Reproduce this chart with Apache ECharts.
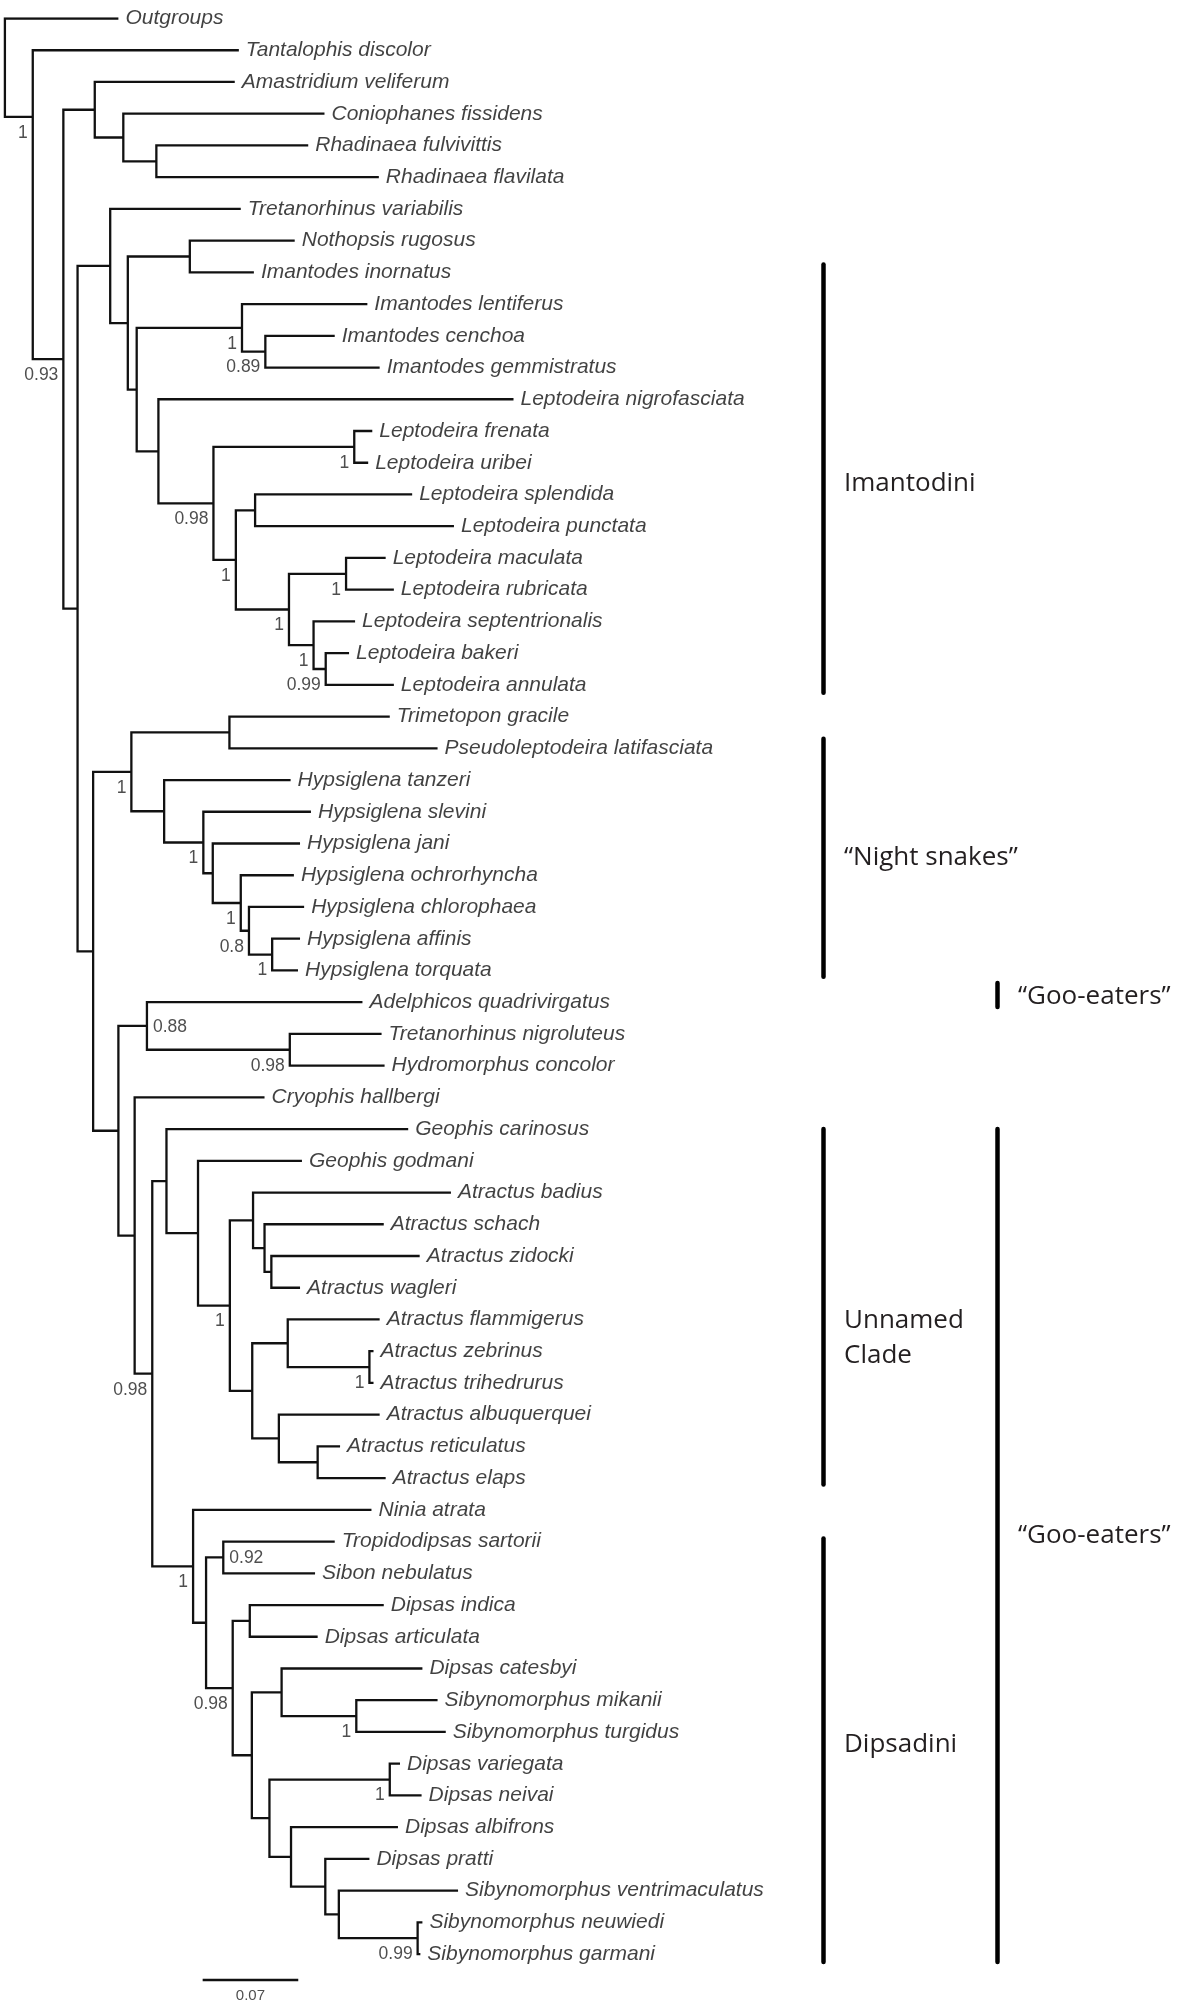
<!DOCTYPE html>
<html>
<head>
<meta charset="utf-8">
<title>Dipsadine phylogeny</title>
<script src="https://cdn.jsdelivr.net/npm/echarts@6/dist/echarts.min.js"></script>
<style>
  html, body { margin: 0; padding: 0; background: #fff; }
  #chart { width: 1200px; height: 2009px; }
</style>
</head>
<body>
<div id="chart"></div>
<script>
// tips, top to bottom
const taxa = [
  'Outgroups', 'Tantalophis discolor', 'Amastridium veliferum', 'Coniophanes fissidens',
  'Rhadinaea fulvivittis', 'Rhadinaea flavilata', 'Tretanorhinus variabilis', 'Nothopsis rugosus',
  'Imantodes inornatus', 'Imantodes lentiferus', 'Imantodes cenchoa', 'Imantodes gemmistratus',
  'Leptodeira nigrofasciata', 'Leptodeira frenata', 'Leptodeira uribei', 'Leptodeira splendida',
  'Leptodeira punctata', 'Leptodeira maculata', 'Leptodeira rubricata', 'Leptodeira septentrionalis',
  'Leptodeira bakeri', 'Leptodeira annulata', 'Trimetopon gracile', 'Pseudoleptodeira latifasciata',
  'Hypsiglena tanzeri', 'Hypsiglena slevini', 'Hypsiglena jani', 'Hypsiglena ochrorhyncha',
  'Hypsiglena chlorophaea', 'Hypsiglena affinis', 'Hypsiglena torquata', 'Adelphicos quadrivirgatus',
  'Tretanorhinus nigroluteus', 'Hydromorphus concolor', 'Cryophis hallbergi', 'Geophis carinosus',
  'Geophis godmani', 'Atractus badius', 'Atractus schach', 'Atractus zidocki',
  'Atractus wagleri', 'Atractus flammigerus', 'Atractus zebrinus', 'Atractus trihedrurus',
  'Atractus albuquerquei', 'Atractus reticulatus', 'Atractus elaps', 'Ninia atrata',
  'Tropidodipsas sartorii', 'Sibon nebulatus', 'Dipsas indica', 'Dipsas articulata',
  'Dipsas catesbyi', 'Sibynomorphus mikanii', 'Sibynomorphus turgidus', 'Dipsas variegata',
  'Dipsas neivai', 'Dipsas albifrons', 'Dipsas pratti', 'Sibynomorphus ventrimaculatus',
  'Sibynomorphus neuwiedi', 'Sibynomorphus garmani'
];

// distance of each tip from the root
const tipDepth = [
  0.0831, 0.1713, 0.1683, 0.2340, 0.2221, 0.2738, 0.1727, 0.2122,
  0.1823, 0.2654, 0.2415, 0.2744, 0.3724, 0.2690, 0.2660, 0.2982,
  0.3288, 0.2788, 0.2848, 0.2564, 0.2520, 0.2848, 0.2818, 0.3168,
  0.2092, 0.2241, 0.2161, 0.2116, 0.2191, 0.2161, 0.2146, 0.2618,
  0.2758, 0.2780, 0.1901, 0.2953, 0.2175, 0.3266, 0.2774, 0.3037,
  0.2161, 0.2744, 0.2699, 0.2699, 0.2744, 0.2454, 0.2788, 0.2684,
  0.2415, 0.2271, 0.2774, 0.2290, 0.3057, 0.3168, 0.3228, 0.2893,
  0.3051, 0.2878, 0.2669, 0.3318, 0.3057, 0.3042
];

// internal nodes n0..n60: depth, children (number = tip, 'nK' = node), posterior support
const nodeDepth = [
  0.0000, 0.0204, 0.0428, 0.0658, 0.0867, 0.1109, 0.0532, 0.0771, 0.0900, 0.1354,
  0.0965, 0.1736, 0.1907, 0.1124, 0.1527, 0.2558, 0.1691, 0.1832, 0.2080, 0.2498,
  0.2260, 0.2349, 0.0646, 0.0926, 0.1644, 0.1166, 0.1453, 0.1522, 0.1727, 0.1787,
  0.1957, 0.0831, 0.1040, 0.2086, 0.0950, 0.1079, 0.1183, 0.1414, 0.1647, 0.1817,
  0.1901, 0.1951, 0.1811, 0.2071, 0.2669, 0.2006, 0.2290, 0.1378, 0.1473, 0.1599,
  0.1668, 0.1793, 0.1808, 0.2026, 0.2573, 0.1937, 0.2818, 0.2095, 0.2346, 0.2445,
  0.3022
];
const nodeKids = [
  [0, 'n1'], [1, 'n2'], ['n3', 'n6'], [2, 'n4'], [3, 'n5'], [4, 5], ['n7', 'n22'], [6, 'n8'],
  ['n9', 'n10'], [7, 8], ['n11', 'n13'], [9, 'n12'], [10, 11], [12, 'n14'], ['n15', 'n16'],
  [13, 14], ['n17', 'n18'], [15, 16], ['n19', 'n20'], [17, 18], [19, 'n21'], [20, 21],
  ['n23', 'n31'], ['n24', 'n25'], [22, 23], [24, 'n26'], [25, 'n27'], [26, 'n28'], [27, 'n29'],
  [28, 'n30'], [29, 30], ['n32', 'n34'], [31, 'n33'], [32, 33], [34, 'n35'], ['n36', 'n47'],
  [35, 'n37'], [36, 'n38'], ['n39', 'n42'], [37, 'n40'], [38, 'n41'], [39, 40], ['n43', 'n45'],
  [41, 'n44'], [42, 43], [44, 'n46'], [45, 46], [47, 'n48'], ['n49', 'n50'], [48, 49],
  ['n51', 'n52'], [50, 51], ['n53', 'n55'], [52, 'n54'], [53, 54], ['n56', 'n57'], [55, 56],
  [57, 'n58'], [58, 'n59'], [59, 'n60'], [60, 61]
];
const nodeSupport = [
  '', '1', '0.93', '', '', '', '', '', '', '',
  '', '1', '0.89', '', '0.98', '1', '1', '', '1', '1',
  '1', '0.99', '', '1', '', '', '1', '', '1', '0.8',
  '1', '', '0.88', '0.98', '', '0.98', '', '', '1', '',
  '', '', '', '', '1', '', '', '1', '', '0.92',
  '0.98', '', '', '', '1', '', '1', '', '', '',
  '0.99'
];
// supports printed to the right of their node
const supportOnRight = [32, 49];
// the figure draws the stem of n1 high up, not at the middle of its children
const nodeRowFixed = { 1: 3.1 };

// clades marked on the right: first/last row covered by the bar, row of the label
const cladeNames = ['Imantodini', '“Night snakes”', '“Goo-eaters”', 'Unnamed\nClade', 'Dipsadini', '“Goo-eaters”'];
const cladeFrom = [7.75, 22.7, 30.4, 35.0, 47.9, 35.0];
const cladeTo = [21.25, 30.2, 31.15, 46.2, 61.25, 61.25];
const cladeLabelRow = [14.65, 26.45, 30.83, 41.6, 54.4, 47.8];
const cladeColumn = [0, 0, 1, 0, 0, 1];

const scaleLength = 0.07;

// ---- layout helpers ----
const nodeY = [];
function pos(k) {
  if (typeof k === 'number') return [tipDepth[k], k];
  const i = +k.slice(1);
  if (nodeY[i] === undefined) {
    const a = pos(nodeKids[i][0]), b = pos(nodeKids[i][nodeKids[i].length - 1]);
    nodeY[i] = nodeRowFixed[i] !== undefined ? nodeRowFixed[i] : (a[1] + b[1]) / 2;
  }
  return [nodeDepth[i], nodeY[i]];
}

const branches = nodeKids.map((kids, i) => {
  const p = pos('n' + i);
  const a = pos(kids[0]), b = pos(kids[kids.length - 1]);
  return { coords: [[a[0], a[1]], [p[0], a[1]], [p[0], b[1]], [b[0], b[1]]] };
});

const supportLeft = [], supportRight = [];
nodeSupport.forEach((s, i) => {
  if (!s) return;
  const p = pos('n' + i);
  (supportOnRight.indexOf(i) >= 0 ? supportRight : supportLeft).push([p[0], p[1], s]);
});

const scaleStart = 0.1448, scaleRow = 61.8;

const chart = echarts.init(document.getElementById('chart'));
const tipFont = { fontFamily: '"Liberation Sans", Arial, sans-serif', fontStyle: 'italic', fontSize: 21, color: '#111' };
const supFont = { fontFamily: '"Liberation Sans", Arial, sans-serif', fontSize: 17.5, color: '#222' };

chart.setOption({
  animation: false,
  grid: { left: 4.9, top: 18.5, width: 1092.6, height: 1967.3 },
  xAxis: { type: 'value', min: 0, max: 0.8, show: false },
  yAxis: { type: 'value', min: 0, max: 62, inverse: true, show: false },
  series: [
    {
      type: 'lines',
      coordinateSystem: 'cartesian2d',
      polyline: true,
      silent: true,
      lineStyle: { color: '#111', width: 2.3, opacity: 1, join: 'miter', cap: 'butt' },
      data: branches
    },
    {
      type: 'lines',
      coordinateSystem: 'cartesian2d',
      silent: true,
      lineStyle: { color: '#111', width: 2.3, opacity: 1 },
      data: [{ coords: [[scaleStart, scaleRow], [scaleStart + scaleLength, scaleRow]] }]
    },
    {
      type: 'scatter',
      symbolSize: 0,
      silent: true,
      data: taxa.map((t, i) => [tipDepth[i], i, t]),
      label: Object.assign({ show: true, position: 'right', distance: 7, formatter: p => p.data[2] }, tipFont)
    },
    {
      type: 'scatter',
      symbolSize: 0,
      silent: true,
      data: supportLeft,
      label: Object.assign({ show: true, position: 'left', distance: 5, offset: [0, 16], formatter: p => p.data[2] }, supFont)
    },
    {
      type: 'scatter',
      symbolSize: 0,
      silent: true,
      data: supportRight,
      label: Object.assign({ show: true, position: 'right', distance: 6, offset: [0, 1], formatter: p => p.data[2] }, supFont)
    },
    {
      type: 'scatter',
      symbolSize: 0,
      silent: true,
      data: [[scaleStart + scaleLength / 2, scaleRow, String(scaleLength)]],
      label: { show: true, position: 'bottom', distance: 9, formatter: p => p.data[2],
        fontFamily: '"Liberation Sans", Arial, sans-serif', fontSize: 15, color: '#222' }
    }
  ]
});

// clade bars and names
const barX = [823.5, 997.5], textX = [844, 1018];
const graphics = [];
cladeNames.forEach((name, i) => {
  const col = cladeColumn[i];
  const y0 = chart.convertToPixel({ gridIndex: 0 }, [0, cladeFrom[i]])[1];
  const y1 = chart.convertToPixel({ gridIndex: 0 }, [0, cladeTo[i]])[1];
  const ty = chart.convertToPixel({ gridIndex: 0 }, [0, cladeLabelRow[i]])[1];
  graphics.push({
    type: 'line', silent: true,
    shape: { x1: barX[col], y1: y0, x2: barX[col], y2: y1 },
    style: { stroke: '#000', lineWidth: 4.5, lineCap: 'round' }
  });
  graphics.push({
    type: 'text', silent: true, x: textX[col], y: ty,
    style: { text: name, fill: '#231f20', font: '26px "Open Sans", sans-serif',
      verticalAlign: 'middle', align: 'left', lineHeight: 35 }
  });
});
chart.setOption({ graphic: graphics });
</script>
</body>
</html>
